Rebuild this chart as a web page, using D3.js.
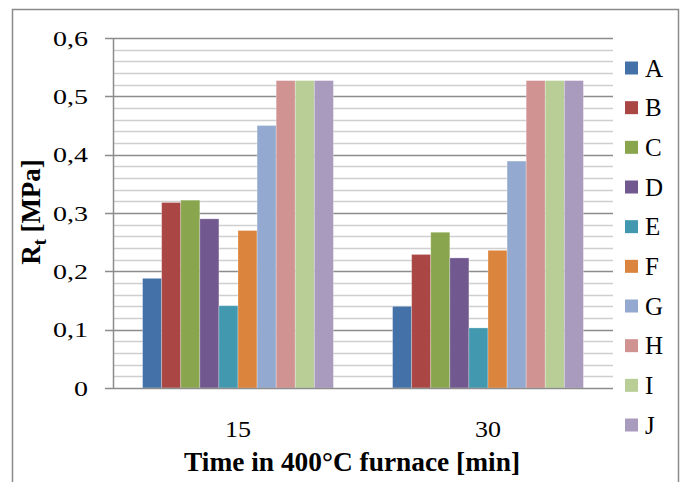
<!doctype html>
<html lang="en">
<head>
	<meta charset="UTF-8">
	<title>Rt vs time in furnace | d3</title>
	<style>
		body { margin: 0; background: #fff; }
		svg text { font-family: "Liberation Serif", "DejaVu Serif", "Times New Roman", serif; fill: #000; }
		.tick-label { font-size: 21px; }
		.cat-label { font-size: 23px; }
		.legend-label { font-size: 25px; }
		.axis-title { font-size: 27px; font-weight: bold; }
	</style>
</head>
<body>
	<script src="https://cdn.jsdelivr.net/npm/d3@7/dist/d3.min.js"></script>
	<script>
		// data
		var categories = ['15', '30'],
			series = ['A', 'B', 'C', 'D', 'E', 'F', 'G', 'H', 'I', 'J'],
			values15 = [0.188, 0.318, 0.322, 0.290, 0.141, 0.270, 0.450, 0.527, 0.527, 0.527],
			values30 = [0.140, 0.229, 0.267, 0.223, 0.103, 0.236, 0.389, 0.527, 0.527, 0.527],
			yTicks = [0, 0.1, 0.2, 0.3, 0.4, 0.5, 0.6],
			colors = ['#4471A8', '#AA4643', '#89A54E', '#71588F', '#4198AF',
				'#DB843D', '#93A9CF', '#D19392', '#B9CD96', '#A99BBD'];

		var w = 681,
			h = 482,
			plot = { left: 113, right: 613, top: 38, bottom: 388 },
			serif = '"Liberation Serif", "DejaVu Serif", "Times New Roman", serif';

		var svg = d3.select('body')
			.append('svg')
			.attr('width', w)
			.attr('height', h)
			.attr('font-family', serif);

		// outer frame (bottom edge falls below the window)
		svg.append('rect')
			.attr('x', 12.5)
			.attr('y', 9.5)
			.attr('width', 666)
			.attr('height', 520)
			.attr('fill', 'none')
			.attr('stroke', '#8a8a8a')
			.attr('stroke-width', 1.5);

		var xScale = d3.scaleBand()
			.domain(categories)
			.range([plot.left, plot.right]);

		var innerScale = d3.scaleBand()
			.domain(series)
			.range([0, xScale.bandwidth()])
			.paddingOuter(1.55);

		var yScale = d3.scaleLinear()
			.domain([0, 0.6])
			.range([plot.bottom, plot.top]);

		// minor gridlines every 0.02
		var minor = d3.range(1, 30).map(function(i) { return i * 0.02; })
			.filter(function(v) { return Math.round(v * 100) % 10 !== 0; });

		svg.selectAll('line.minor')
			.data(minor)
			.enter()
			.append('line')
			.attr('class', 'minor')
			.attr('x1', plot.left)
			.attr('x2', plot.right)
			.attr('y1', function(d) { return Math.round(yScale(d)) + 0.5; })
			.attr('y2', function(d) { return Math.round(yScale(d)) + 0.5; })
			.attr('stroke', '#cfcfcf')
			.attr('stroke-width', 1.5);

		// major gridlines + tick marks
		svg.selectAll('line.major')
			.data(yTicks.slice(1))
			.enter()
			.append('line')
			.attr('class', 'major')
			.attr('x1', plot.left - 8)
			.attr('x2', plot.right)
			.attr('y1', function(d) { return Math.round(yScale(d)) + 0.5; })
			.attr('y2', function(d) { return Math.round(yScale(d)) + 0.5; })
			.attr('stroke', '#8c8c8c')
			.attr('stroke-width', 1.5);

		// y axis line
		svg.append('line')
			.attr('x1', plot.left + 0.5)
			.attr('x2', plot.left + 0.5)
			.attr('y1', plot.top)
			.attr('y2', plot.bottom)
			.attr('stroke', '#8c8c8c')
			.attr('stroke-width', 1.5);

		// bars
		var table = categories.map(function(c, i) {
			var vals = i === 0 ? values15 : values30;
			return series.map(function(s, j) {
				return { cat: c, key: s, value: vals[j], color: colors[j] };
			});
		});

		svg.selectAll('g.group')
			.data(table)
			.enter()
			.append('g')
			.attr('class', 'group')
			.attr('transform', function(d) {
				return 'translate(' + xScale(d[0].cat) + ',0)';
			})
			.selectAll('rect')
			.data(function(d) { return d; })
			.enter()
			.append('rect')
			.attr('x', function(d) { return innerScale(d.key); })
			.attr('width', innerScale.bandwidth())
			.attr('y', function(d) { return yScale(d.value); })
			.attr('height', function(d) { return yScale(0) - yScale(d.value); })
			.attr('fill', function(d) { return d.color; })
			.attr('stroke', 'rgba(255,255,255,0.35)')
			.attr('stroke-width', 0.8);

		// x axis line
		svg.append('line')
			.attr('x1', plot.left - 8)
			.attr('x2', plot.right)
			.attr('y1', plot.bottom + 0.5)
			.attr('y2', plot.bottom + 0.5)
			.attr('stroke', '#8c8c8c')
			.attr('stroke-width', 1.5);

		// y tick labels
		svg.selectAll('text.tick-label')
			.data(yTicks)
			.enter()
			.append('text')
			.attr('class', 'tick-label')
			.attr('x', 88)
			.attr('y', function(d) { return yScale(d) + 7.5; })
			.attr('text-anchor', 'end')
			.attr('textLength', function(d) { return d === 0 ? 14 : 35; })
			.attr('lengthAdjust', 'spacingAndGlyphs')
			.text(function(d) { return d === 0 ? '0' : d3.format('.1f')(d).replace('.', ','); });

		// category labels
		svg.selectAll('text.cat-label')
			.data(categories)
			.enter()
			.append('text')
			.attr('class', 'cat-label')
			.attr('x', function(d) { return xScale(d) + xScale.bandwidth() / 2; })
			.attr('y', 437)
			.attr('text-anchor', 'middle')
			.attr('textLength', 26)
			.attr('lengthAdjust', 'spacingAndGlyphs')
			.text(function(d) { return d; });

		// axis titles
		svg.append('text')
			.attr('class', 'axis-title')
			.attr('x', 352)
			.attr('y', 471)
			.attr('text-anchor', 'middle')
			.attr('textLength', 336)
			.attr('lengthAdjust', 'spacingAndGlyphs')
			.text('Time in 400°C furnace [min]');

		var yTitle = svg.append('text')
			.attr('class', 'axis-title')
			.attr('transform', 'translate(40,212) rotate(-90)')
			.attr('text-anchor', 'middle');
		yTitle.append('tspan').text('R');
		yTitle.append('tspan').attr('dy', 6).attr('font-size', '18px').text('t');
		yTitle.append('tspan').attr('dy', -6).text(' [MPa]');

		// legend
		var legendY = d3.scalePoint()
			.domain(series)
			.range([68, 425]);

		var legend = svg.selectAll('g.legend')
			.data(series)
			.enter()
			.append('g')
			.attr('class', 'legend')
			.attr('transform', function(d) { return 'translate(625,' + legendY(d) + ')'; });

		legend.append('rect')
			.attr('x', 0)
			.attr('y', -6.5)
			.attr('width', 13)
			.attr('height', 13)
			.attr('fill', function(d, i) { return colors[i]; });

		legend.append('text')
			.attr('class', 'legend-label')
			.attr('x', 20)
			.attr('y', 8.5)
			.text(function(d) { return d; });
	</script>
</body>
</html>
